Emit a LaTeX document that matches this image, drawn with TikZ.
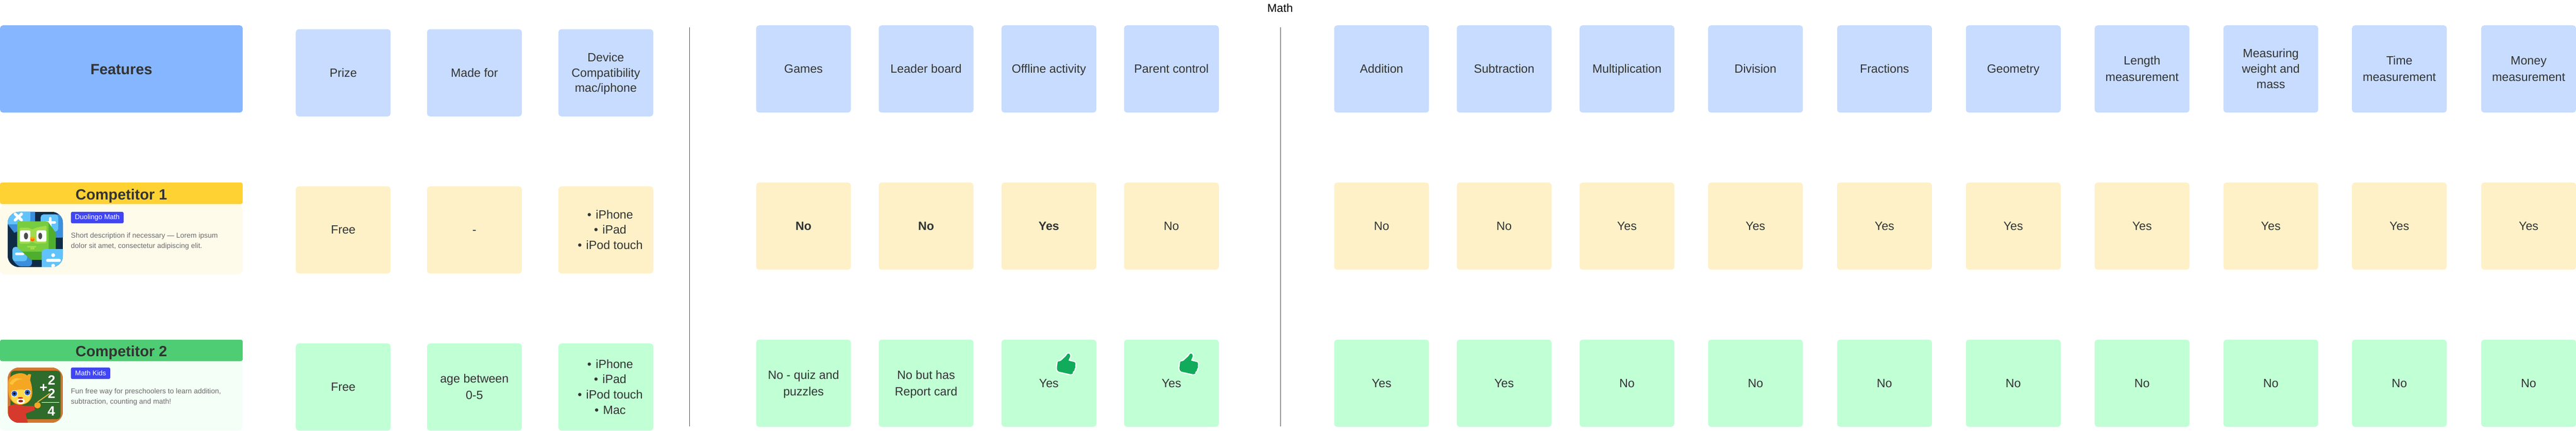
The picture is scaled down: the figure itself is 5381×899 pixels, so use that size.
\documentclass[tikz,border=0pt]{standalone}
\usepackage{fontspec}
\setmainfont{Liberation Sans}
\definecolor{ink}{HTML}{333333}
\definecolor{hdrblue}{HTML}{86B6FF}
\definecolor{cellblue}{HTML}{C7DCFF}
\definecolor{hdryellow}{HTML}{FFD233}
\definecolor{bodyyellow}{HTML}{FFFBEB}
\definecolor{cellyellow}{HTML}{FEF1C8}
\definecolor{hdrgreen}{HTML}{4FCD74}
\definecolor{bodygreen}{HTML}{F4FFF7}
\definecolor{cellgreen}{HTML}{C1FFD5}
\definecolor{badgeblue}{HTML}{4045F5}
\definecolor{thumbgreen}{HTML}{10AB5B}
\definecolor{navy}{HTML}{0F2C47}
\definecolor{skyL}{HTML}{62C3FA}
\definecolor{skyD}{HTML}{3B8FDD}
\definecolor{owlL}{HTML}{78CC3F}
\definecolor{owlD}{HTML}{4FAE2E}
\definecolor{owlG}{HTML}{A0DC4B}
\definecolor{wood}{HTML}{D2772F}
\definecolor{board}{HTML}{2F6B2A}
\definecolor{fur}{HTML}{F5A623}
\definecolor{furL}{HTML}{FFD84A}
\definecolor{sweater}{HTML}{D63A2C}
\definecolor{iris}{HTML}{2A5FC4}
\newcommand\st{\rule[-8pt]{0pt}{33pt}}
\newcommand\lab[1]{\st#1\st}
\newcommand\bul[1]{\hspace*{36pt}\llap{•\hspace{9pt}}#1}
\tikzset{
  x=1pt,y=-1pt,
  cellbox/.style={rectangle,rounded corners=6pt,minimum width=198pt,minimum height=182pt,inner sep=0pt,align=center,text=ink,font=\fontsize{25}{32}\selectfont},
  blue/.style={cellbox,fill=cellblue},
  yel/.style={cellbox,fill=cellyellow},
  grn/.style={cellbox,fill=cellgreen},
  hdrband/.style={rectangle,rounded corners=4pt,minimum width=507pt,minimum height=45pt,inner sep=0pt,text=ink,text height=29.5pt,text depth=3.5pt,font=\fontsize{31}{36}\selectfont\bfseries},
  panel/.style={rectangle,rounded corners=10pt,minimum width=507pt,inner sep=0pt},
  badge/.style={rectangle,rounded corners=3pt,fill=badgeblue,text=white,minimum height=24pt,inner sep=0pt,anchor=north west,font=\fontsize{14.5}{16}\selectfont},
  desc/.style={anchor=north west,inner sep=0pt,align=left,text=black!58,font=\fontsize{15}{22}\selectfont},
  divider/.style={line width=1pt,draw=black!70},
  chalk/.style={text=white,inner sep=0pt,font=\fontsize{28}{30}\selectfont\bfseries},
  thumb/.pic={
    \draw[white,line width=5pt,line join=round,fill=thumbgreen,rounded corners=1.5pt]
      (-17.3,-5)--(-10.7,-6.7)--(0,-16.7)--(3.3,-21.7)--(7.3,-21.7)--(9,-16.7)--(5,-7.3)--(18.3,-4)--(20,-.7)--(19,4)--(20,6.7)--(17.7,10)--(17.7,13.3)--(14.3,16)--(14.3,20)--(10,21.3)--(-15,15.7)--(-18.3,12.7)--(-19,8.3)--cycle;
    \fill[thumbgreen,rounded corners=1pt]
      (-17.3,-5)--(-10.7,-6.7)--(0,-16.7)--(3.3,-21.7)--(7.3,-21.7)--(9,-16.7)--(5,-7.3)--(18.3,-4)--(20,-.7)--(19,4)--(20,6.7)--(17.7,10)--(17.7,13.3)--(14.3,16)--(14.3,20)--(10,21.3)--(-15,15.7)--(-18.3,12.7)--(-19,8.3)--cycle;
  }
}
\begin{document}
\begin{tikzpicture}
\useasboundingbox (0,0) rectangle (5381,899);

\node[text=black,inner sep=0pt,font=\fontsize{24}{28}\selectfont] (mathtitle) at (2674,17) {Math};

% dividers
\coordinate (d1t) at (1440,57); \coordinate (d1b) at (1440,890);
\coordinate (d2t) at (2675,57); \coordinate (d2b) at (2675,890);
\draw[divider] (d1t) -- (d1b);
\draw[divider] (d2t) -- (d2b);

% left column
\node[rectangle,rounded corners=6pt,fill=hdrblue,minimum width=507pt,minimum height=182pt,inner sep=0pt,text=ink,text height=27pt,text depth=4pt,font=\fontsize{31}{36}\selectfont\bfseries] (features) at (253.5,144) {Features};

\node[panel,fill=bodyyellow,minimum height=146pt] (body1) at (253.5,500) {};
\node[hdrband,fill=hdryellow] (comp1) at (253.5,403.5) {Competitor 1};
\node[badge,minimum width=110pt] (badge1) at (148,442) {Duolingo Math};
\node[desc] (desc1) at (148,485.5) {Short description if necessary — Lorem ipsum\\dolor sit amet, consectetur adipiscing elit.};

\node[panel,fill=bodygreen,minimum height=146pt] (body2) at (253.5,826) {};
\node[hdrband,fill=hdrgreen] (comp2) at (253.5,731.5) {Competitor 2};
\node[badge,minimum width=82pt] (badge2) at (148,767) {Math Kids};
\node[desc] (desc2) at (148,810.5) {Fun free way for preschoolers to learn addition,\\subtraction, counting and math!};

% owl icon, in 3x coordinates
\begin{scope}[shift={(10,436)},x=.33333pt,y=-.33333pt]
  \begin{scope}
    \clip[rounded corners=24pt] (18,18) rectangle (365,365);
    \fill[navy] (18,18) rectangle (365,365);
    \fill[skyD] (18,95)--(60,150)--(100,130)--(100,80)--(190,80)--(190,18)--(18,18)--cycle;
    \fill[skyL,rounded corners=3pt] (10,10)--(160,10)--(160,80)--(100,97)--(18,97)--cycle;
    \draw[white,line width=6pt,line cap=round] (65,32)--(105,70) (105,32)--(65,70);
    \fill[skyD,rounded corners=6pt] (225,35) rectangle (375,180);
    \fill[skyL,rounded corners=6pt] (225,35) rectangle (335,142);
    \draw[white,line width=6pt,line cap=round] (285,60)--(285,115) (262,85)--(312,85);
    \fill[skyD,rounded corners=6pt] (48,240)--(48,320)--(85,360)--(170,360)--(170,240)--cycle;
    \fill[skyL,rounded corners=6pt] (48,238) rectangle (140,328);
    \draw[white,line width=5pt,line cap=round] (72,282)--(115,282);
    \fill[owlD] (78,240)--(165,320)--(320,320)--(320,150)--(270,80)--cycle;
    \fill[owlL,rounded corners=3pt] (78,78)--(270,78)--(275,95)--(275,268)--(105,268)--(78,240)--cycle;
    \fill[owlG,rounded corners=2pt] (92,118)--(150,118)--(172,130)--(195,118)--(262,105)--(262,215)--(195,218)--(172,205)--(150,218)--(92,218)--cycle;
    \fill[white,rounded corners=2pt] (95,135) rectangle (160,205);
    \fill[white,rounded corners=2pt] (200,135) rectangle (260,205);
    \fill[black!70] (133,170) ellipse [x radius=13,y radius=21];
    \fill[black!70] (222,170) ellipse [x radius=12,y radius=21];
    \fill[orange!85!red] (173,192) ellipse [x radius=14,y radius=12];
    \fill[orange!70!yellow] (173,182) ellipse [x radius=16,y radius=7];
    \fill[owlG] (140,232) rectangle (195,243);
    \fill[owlG] (162,243) rectangle (185,254);
    \fill[skyL,rounded corners=6pt] (232,252) rectangle (385,405);
    \fill[white] (303,290) circle [radius=12];
    \draw[white,line width=6pt,line cap=round] (268,323)--(342,323);
    \fill[white] (303,356) circle [radius=12];
  \end{scope}
\end{scope}

% bear icon, in 3x coordinates
\begin{scope}[shift={(10,760)},x=.33333pt,y=-.33333pt]
  \begin{scope}
    \clip[rounded corners=24pt] (18,21) rectangle (365,368);
    \fill[wood] (18,21) rectangle (365,368);
    \fill[board,rounded corners=8pt] (36,42) rectangle (350,345);
    \fill[sweater] (22,265)--(60,250)--(125,262)--(185,262)--(188,288)--(130,310)--(145,368)--(22,368)--cycle;
    \draw[furL!60!brown,line width=2pt] (205,238)--(282,184);
    \fill[fur] (205,258) ellipse [x radius=20,y radius=19];
    \fill[fur] (132,80)--(150,62)--(165,65)--(158,105)--cycle;
    \fill[fur] (22,150) .. controls (15,110) and (25,75) .. (70,62) .. controls (90,55) and (125,55) .. (140,72) .. controls (160,90) and (170,130) .. (172,170) .. controls (175,220) and (150,250) .. (100,255) .. controls (50,255) and (20,220) .. (22,150) -- cycle;
    \fill[furL] (100,205) ellipse [x radius=60,y radius=46];
    \fill[furL!60!fur] (30,125) .. controls (40,90) and (75,80) .. (110,95) .. controls (85,95) and (60,105) .. (50,130) -- cycle;
    \fill[white] (60,185) circle [radius=21];
    \fill[white] (142,178) circle [radius=21];
    \fill[iris] (60,185) circle [radius=18];
    \fill[iris] (142,178) circle [radius=18];
    \fill[black] (60,185) circle [radius=7];
    \fill[black] (142,178) circle [radius=7];
    \fill[white] (100,233) ellipse [x radius=25,y radius=17];
    \fill[sweater!70!black] (100,232) ellipse [x radius=15,y radius=8];
    \fill[sweater] (98,212) ellipse [x radius=17,y radius=6];
  \end{scope}
  \node[chalk] (plus) at (243,150) {+};
  \node[chalk] (numa) at (293,100) {2};
  \node[chalk] (numb) at (293,185) {2};
  \node[chalk] (numc) at (292,295) {4};
  \draw[white,line width=1.5pt] (230,240) -- (340,240);
\end{scope}

% header row
\node[blue] (hPrize) at (717,152) {\lab{Prize}};
\node[blue] (hMade) at (991,152) {\lab{Made for}};
\node[blue] (hDevice) at (1265.5,152) {\st Device\\Compatibility\\mac/iphone\st};
\node[blue] (hGames) at (1678.5,144) {\lab{Games}};
\node[blue] (hLeader) at (1934.5,144) {\lab{Leader board}};
\node[blue] (hOffline) at (2191,144) {\lab{Offline activity}};
\node[blue] (hParent) at (2447,144) {\lab{Parent control}};
\node[blue] (hAdd) at (2886,144) {\lab{Addition}};
\node[blue] (hSub) at (3142,144) {\lab{Subtraction}};
\node[blue] (hMul) at (3398.5,144) {\lab{Multiplication}};
\node[blue] (hDiv) at (3667,144) {\lab{Division}};
\node[blue] (hFrac) at (3936.5,144) {\lab{Fractions}};
\node[blue] (hGeo) at (4205.5,144) {\lab{Geometry}};
\node[blue] (hLen) at (4474.5,144) {\st Length\\measurement\st};
\node[blue] (hWei) at (4743.5,144) {\st Measuring\\weight and\\mass\st};
\node[blue] (hTime) at (5012,144) {\st Time\\measurement\st};
\node[blue] (hMon) at (5282,144) {\st Money\\measurement\st};

% competitor 1 row
\node[yel] (aPrize) at (717,480) {\lab{Free}};
\node[yel] (aMade) at (991,480) {\lab{-}};
\node[yel] (aDevice) at (1265.5,480) {\st\bul{iPhone}\\\bul{iPad}\\\bul{iPod touch}\st};
\node[yel] (aGames) at (1678.5,472) {\lab{\textbf{No}}};
\node[yel] (aLeader) at (1934.5,472) {\lab{\textbf{No}}};
\node[yel] (aOffline) at (2191,472) {\lab{\textbf{Yes}}};
\node[yel] (aParent) at (2447,472) {\lab{No}};
\node[yel] (aAdd) at (2886,472) {\lab{No}};
\node[yel] (aSub) at (3142,472) {\lab{No}};
\node[yel] (aMul) at (3398.5,472) {\lab{Yes}};
\node[yel] (aDiv) at (3667,472) {\lab{Yes}};
\node[yel] (aFrac) at (3936.5,472) {\lab{Yes}};
\node[yel] (aGeo) at (4205.5,472) {\lab{Yes}};
\node[yel] (aLen) at (4474.5,472) {\lab{Yes}};
\node[yel] (aWei) at (4743.5,472) {\lab{Yes}};
\node[yel] (aTime) at (5012,472) {\lab{Yes}};
\node[yel] (aMon) at (5282,472) {\lab{Yes}};

% competitor 2 row
\node[grn] (bPrize) at (717,808) {\lab{Free}};
\node[grn] (bMade) at (991,808) {\st age between\\0-5\st};
\node[grn] (bDevice) at (1265.5,808) {\st\bul{iPhone}\\\bul{iPad}\\\bul{iPod touch}\\\bul{Mac}\st};
\node[grn] (bGames) at (1678.5,800) {\st No - quiz and\\puzzles\st};
\node[grn] (bLeader) at (1934.5,800) {\st No but has\\Report card\st};
\node[grn] (bOffline) at (2191,800) {\lab{Yes}};
\node[grn] (bParent) at (2447,800) {\lab{Yes}};
\node[grn] (bAdd) at (2886,800) {\lab{Yes}};
\node[grn] (bSub) at (3142,800) {\lab{Yes}};
\node[grn] (bMul) at (3398.5,800) {\lab{No}};
\node[grn] (bDiv) at (3667,800) {\lab{No}};
\node[grn] (bFrac) at (3936.5,800) {\lab{No}};
\node[grn] (bGeo) at (4205.5,800) {\lab{No}};
\node[grn] (bLen) at (4474.5,800) {\lab{No}};
\node[grn] (bWei) at (4743.5,800) {\lab{No}};
\node[grn] (bTime) at (5012,800) {\lab{No}};
\node[grn] (bMon) at (5282,800) {\lab{No}};

\pic at (2226.7,760) {thumb};
\pic at (2482.7,760) {thumb};
\end{tikzpicture}
\end{document}
